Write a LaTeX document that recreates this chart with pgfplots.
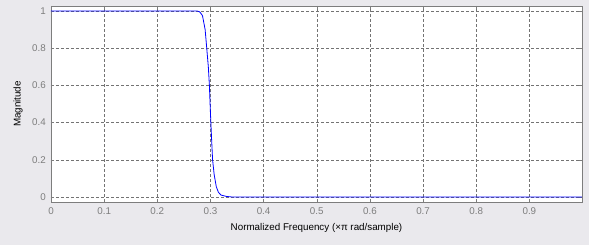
\documentclass[border=0pt]{standalone}
\usepackage{fontspec}
\setmainfont{Liberation Sans}
\usepackage{pgfplots}
\pgfplotsset{compat=1.18}
\definecolor{bg}{RGB}{234,233,237}
\definecolor{tickgray}{RGB}{125,125,125}
\definecolor{gridgray}{RGB}{115,115,115}
\begin{document}
\begin{tikzpicture}
\fill[bg] (-51pt,-43pt) rectangle (538pt,202pt);
\begin{axis}[
  at={(0pt,0pt)}, anchor=south west,
  scale only axis, width=531pt, height=196pt,
  xmin=0, xmax=0.999, ymin=-0.027, ymax=1.027,
  xtick={0,0.1,...,0.9}, ytick={0,0.2,...,1},
  xticklabels={0,0.1,0.2,0.3,0.4,0.5,0.6,0.7,0.8,0.9},
  yticklabels={0,0.2,0.4,0.6,0.8,1},
  axis background/.style={fill=white},
  axis line style={draw=tickgray},
  tick style={draw=tickgray, thin},
  tick align=inside, major tick length=3pt,
  xtick pos=both, ytick pos=both,
  grid=major,
  major grid style={draw=gridgray, dash pattern=on 3pt off 2pt, line width=0.45pt},
  ticklabel style={font=\fontsize{9.8}{11}\selectfont, text=tickgray},
  xticklabel style={anchor=base, yshift=-13pt},
  yticklabel style={anchor=east, inner sep=0pt, xshift=-5pt},
  xlabel={Normalized Frequency (×π rad/sample)},
  ylabel={Magnitude},
  label style={font=\fontsize{9.8}{11}\selectfont},
  xlabel style={at={(axis description cs:0.5,-0.1327)}, anchor=center},
  ylabel style={at={(axis description cs:-0.0621,0.5)}, anchor=center},
]
\addplot[blue, line width=0.8pt] coordinates {
(0,1) (0.275,1) (0.28,0.995) (0.285,0.975) (0.29,0.9) (0.293,0.8) (0.296,0.7)
(0.298,0.6) (0.3,0.45) (0.302,0.32) (0.304,0.2) (0.307,0.12) (0.311,0.055)
(0.315,0.025) (0.32,0.01) (0.33,0.003) (0.34,0) (0.999,0)
};
\end{axis}
\end{tikzpicture}
\end{document}
